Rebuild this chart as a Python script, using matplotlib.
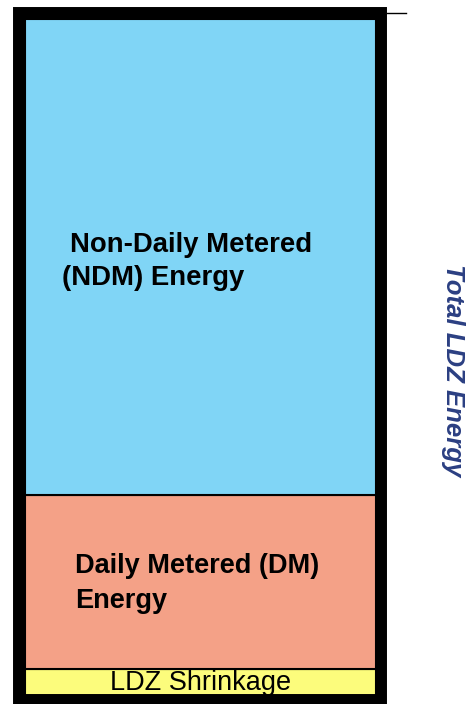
import matplotlib.pyplot as plt
from matplotlib.patches import Rectangle

plt.rcParams['font.family'] = ['Liberation Sans', 'DejaVu Sans']

# stacked components, bottom to top (arbitrary energy units)
segments = ['LDZ Shrinkage', 'Daily Metered (DM)\nEnergy', 'Non-Daily Metered\n(NDM) Energy']
values = [27, 174, 476]
colors = ['#fcfc7c', '#f4a187', '#80d5f6']
total_label = 'Total LDZ Energy'

fig = plt.figure(figsize=(4.71, 7.04), dpi=100)
ax = fig.add_axes([0, 0, 1, 1])
ax.set_xlim(0, 471)
ax.set_ylim(-8, 696)
ax.axis('off')

bar_x, bar_w = 200.5, 351
bottom = 0
for name, v, c in zip(segments, values, colors):
    ax.bar(bar_x, v, width=bar_w, bottom=bottom, color=c,
           edgecolor='black', linewidth=1.5, zorder=2)
    bottom += v
total = bottom

# heavy outer frame around the whole stack
pad = 6
ax.add_patch(Rectangle((bar_x - bar_w / 2 - pad, -pad + 2), bar_w + 2 * pad - 1,
                       total + 2 * pad - 2, fill=False, edgecolor='black',
                       linewidth=8.6, zorder=3, joinstyle='miter'))
# small tick at the top right
ax.plot([387, 406], [total + 6, total + 6], color='black', lw=1, zorder=3)

# segment labels
ax.text(bar_x, 5.5, segments[0], ha='center', va='baseline',
        fontsize=19.5, color='black', zorder=4)

dm1, dm2 = segments[1].split('\n')
ax.text(75, 123, dm1, ha='left', va='baseline', fontsize=19.5,
        fontweight='bold', zorder=4)
ax.text(75, 88, dm2, ha='left', va='baseline', fontsize=19.5,
        fontweight='bold', zorder=4)

ndm1, ndm2 = segments[2].split('\n')
ax.text(70, 444, ndm1, ha='left', va='baseline', fontsize=19.8,
        fontweight='bold', zorder=4)
ax.text(62, 411, ndm2, ha='left', va='baseline', fontsize=19.8,
        fontweight='bold', zorder=4)

# total label on the right
ax.text(453, 326, total_label, ha='center', va='center', rotation=-90,
        fontsize=18.5, fontweight='bold', fontstyle='italic', color='#2b3f82')

fig.savefig('out.png', dpi=100)
